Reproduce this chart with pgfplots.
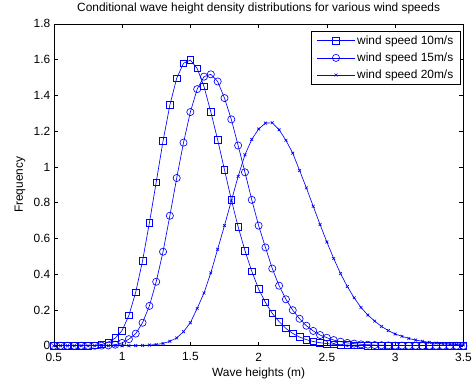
\documentclass[border=0pt]{standalone}
\usepackage{pgfplots}
\pgfplotsset{compat=1.18}
\usepackage{pgfplotstable}
\usepackage{fontspec}
\setmainfont{Liberation Sans}
\pgfplotstableread{
x a b c
0.50 0 0 0
0.55 0 0 0
0.60 0 0 0
0.65 0 0 0
0.70 0 0 0
0.75 0.001 0 0
0.80 0.002 0 0
0.85 0.007 0.001 0
0.90 0.020 0.002 0
0.95 0.043 0.006 0
1.00 0.085 0.016 0
1.05 0.170 0.037 0
1.10 0.300 0.068 0.001
1.15 0.475 0.129 0.002
1.20 0.687 0.223 0.004
1.25 0.915 0.358 0.007
1.30 1.145 0.526 0.013
1.35 1.346 0.727 0.025
1.40 1.496 0.938 0.044
1.45 1.580 1.136 0.079
1.50 1.598 1.307 0.129
1.55 1.551 1.435 0.209
1.60 1.450 1.505 0.295
1.65 1.307 1.518 0.408
1.70 1.152 1.478 0.540
1.75 0.984 1.385 0.672
1.80 0.817 1.266 0.810
1.85 0.665 1.120 0.947
1.90 0.532 0.970 1.068
1.95 0.417 0.816 1.154
2.00 0.317 0.672 1.212
2.05 0.242 0.550 1.245
2.10 0.181 0.432 1.247
2.15 0.135 0.336 1.208
2.20 0.097 0.260 1.149
2.25 0.069 0.199 1.077
2.30 0.049 0.151 0.980
2.35 0.034 0.112 0.883
2.40 0.024 0.083 0.780
2.45 0.017 0.060 0.678
2.50 0.012 0.045 0.580
2.55 0.008 0.032 0.488
2.60 0.006 0.023 0.404
2.65 0.004 0.016 0.331
2.70 0.003 0.012 0.268
2.75 0.002 0.008 0.214
2.80 0.001 0.006 0.172
2.85 0.001 0.004 0.138
2.90 0.001 0.003 0.108
2.95 0 0.002 0.085
3.00 0 0.001 0.066
3.05 0 0.001 0.053
3.10 0 0 0.041
3.15 0 0 0.032
3.20 0 0 0.025
3.25 0 0 0.019
3.30 0 0 0.015
3.35 0 0 0.011
3.40 0 0 0.009
3.45 0 0 0.007
3.50 0 0 0.005
}\datatable
\begin{document}
\begin{tikzpicture}
\begin{axis}[
  scale only axis,
  width=411bp, height=323bp,
  xmin=0.5, xmax=3.5, ymin=0, ymax=1.8,
  xtick={0.5,1,...,3.5},
  ytick={0,0.2,...,1.8},
  tick align=inside,
  major tick length=4bp,
  axis line style={line width=0.6pt},
  every tick/.style={black, line width=0.5pt},
  /pgf/number format/assume math mode=true,
  ticklabel style={font=\fontsize{12}{14}\selectfont},
  xticklabel style={yshift=-3.5bp},
  label style={font=\fontsize{12}{14}\selectfont},
  title style={font=\fontsize{12}{14}\selectfont, yshift=0bp},
  title={Conditional wave height density distributions for various wind speeds},
  xlabel={Wave heights (m)},
  ylabel={Frequency},
  ylabel style={yshift=1.5bp},
  legend cell align=left,
  legend style={at={(0.993,0.978)}, anchor=north east, draw=black, line width=0.6pt,
    font=\fontsize{12}{14}\selectfont, row sep=3bp, inner xsep=5bp, inner ysep=2.5bp},
  legend image code/.code={\draw[mark repeat=2,mark phase=2] plot coordinates {(0bp,0bp)(19bp,0bp)(38bp,0bp)};},
]
\addplot[color=blue, line width=0.65pt, mark=square, mark size=3.3bp, mark options={draw=blue}] table[x=x,y=a]{\datatable};
\addlegendentry{wind speed 10m/s}
\addplot[color=blue, line width=0.65pt, mark=o, mark size=3.6bp, mark options={draw=blue}] table[x=x,y=b]{\datatable};
\addlegendentry{wind speed 15m/s}
\addplot[color=blue, line width=0.65pt, mark=x, mark size=2bp, mark options={draw=blue}] table[x=x,y=c]{\datatable};
\addlegendentry{wind speed 20m/s}
\end{axis}
\path ([xshift=-54bp,yshift=-38bp]current axis.south west) rectangle ([xshift=10bp,yshift=22bp]current axis.north east);
\end{tikzpicture}
\end{document}
